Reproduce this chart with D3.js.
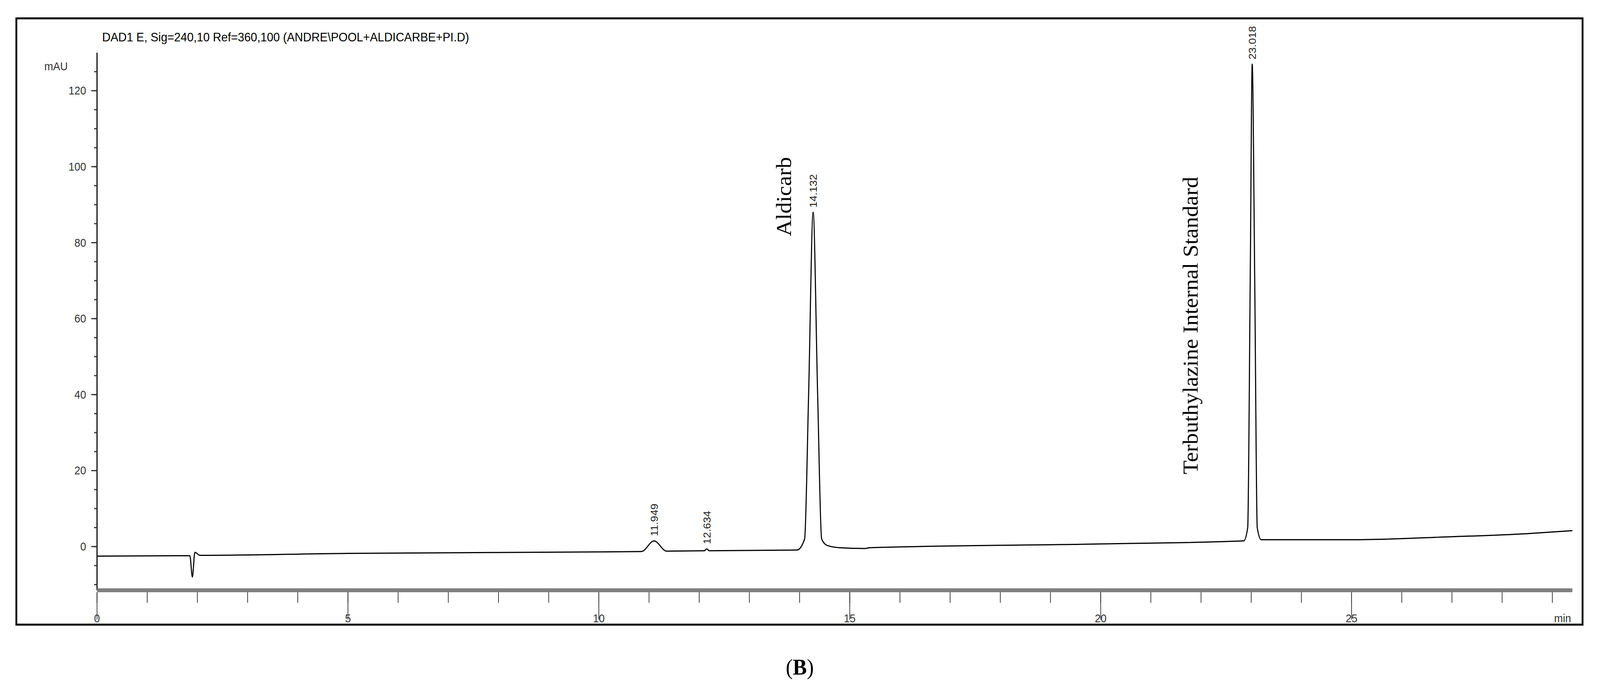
<!DOCTYPE html>
<html>
<head>
<meta charset="utf-8">
<script src="https://cdn.jsdelivr.net/npm/d3@7"></script>
<style>
  html, body { margin: 0; padding: 0; background: #fff; overflow: hidden; }
  svg { display: block; }
  text { font-family: "Liberation Sans", Arial, sans-serif; }
</style>
</head>
<body>
<svg id="chart" viewBox="0 0 4403 1770" preserveAspectRatio="none" style="width:100vw;height:100vh"></svg>
<script>
// chromatogram trace (min, mAU)
var times  = [0, 1.85, 1.9, 1.95, 2.05, 5, 10, 10.85, 11.1, 11.35, 12.1, 12.15, 12.2, 13.95, 14.1, 14.18, 14.27, 14.36, 14.44, 14.55, 14.8, 15.3, 15.4, 20, 22.85, 22.93, 22.98, 23.02, 23.07, 23.12, 23.2, 25, 27, 28.5, 29.4];
var signal = [-2.5, -2.4, -8, -1.5, -2.3, -1.8, -1.4, -1.3, 1.5, -1.2, -1.1, -0.6, -1.1, -0.9, 2, 40, 88, 40, 2, 0.3, -0.3, -0.5, -0.3, 0.7, 1.5, 5, 70, 127, 70, 5, 1.8, 1.8, 2.6, 3.4, 4.2];

// peak retention time labels
var peakTimes  = [11.1, 12.15, 14.27, 23.02];
var peakHeight = [1.5, -0.6, 88, 127];
var peakLabels = ["11.949", "12.634", "14.132", "23.018"];

// compound names
var compounds  = ["Aldicarb", "Terbuthylazine Internal Standard"];
var compoundAt = [13.7, 21.8];

var xTicks = [0, 5, 10, 15, 20, 25];
var yTicks = [0, 20, 40, 60, 80, 100, 120];

var svg = d3.select("#chart");

// outer frame
svg.append("rect").attr("x", 45).attr("y", 47).attr("width", 4310).attr("height", 1553)
    .attr("fill", "none").attr("stroke", "#000").attr("stroke-width", 5);

svg.append("text").attr("x", 281).attr("y", 106).attr("font-size", 32)
    .text("DAD1 E, Sig=240,10 Ref=360,100 (ANDRE\\POOL+ALDICARBE+PI.D)");

var x = d3.scaleLinear().domain([0, 29.4]).range([267, 4327]);
var y = d3.scaleLinear().domain([-11.5, 130]).range([1512, 135]);

// y axis
var yAxis = svg.append("g").attr("transform", "translate(267,0)");
yAxis.append("line").attr("y1", y(130)).attr("y2", y(-11.5)).attr("stroke", "#000").attr("stroke-width", 3);
yAxis.selectAll(".minor").data(d3.range(-10, 130, 5)).enter().append("line")
    .attr("x1", -8).attr("x2", 0).attr("y1", d => y(d)).attr("y2", d => y(d)).attr("stroke", "#333").attr("stroke-width", 3);
yAxis.selectAll(".major").data(yTicks).enter().append("line")
    .attr("x1", -16).attr("x2", 0).attr("y1", d => y(d)).attr("y2", d => y(d)).attr("stroke", "#333").attr("stroke-width", 3);
yAxis.selectAll(".lbl").data(yTicks).enter().append("text")
    .attr("x", -30).attr("y", d => y(d) + 10).attr("text-anchor", "end").attr("font-size", 29).attr("fill", "#333")
    .text(d => d);
svg.append("text").attr("x", 122).attr("y", 180).attr("font-size", 29).attr("fill", "#333").text("mAU");

// x axis
var xAxis = svg.append("g").attr("transform", "translate(0,1512)");
xAxis.append("line").attr("x1", 267).attr("x2", 4327).attr("stroke", "#808080").attr("stroke-width", 10);
xAxis.selectAll(".minor").data(d3.range(0, 30, 1)).enter().append("line")
    .attr("x1", d => x(d)).attr("x2", d => x(d)).attr("y1", 5).attr("y2", 32).attr("stroke", "#333").attr("stroke-width", 2);
xAxis.selectAll(".major").data(xTicks).enter().append("line")
    .attr("x1", d => x(d)).attr("x2", d => x(d)).attr("y1", 5).attr("y2", 75).attr("stroke", "#333").attr("stroke-width", 2);
xAxis.selectAll(".lbl").data(xTicks).enter().append("text")
    .attr("x", d => x(d)).attr("y", 82).attr("text-anchor", "middle").attr("font-size", 29).attr("fill", "#333")
    .text(d => d);
xAxis.append("text").attr("x", 4300).attr("y", 82).attr("text-anchor", "middle").attr("font-size", 29).attr("fill", "#333").text("min");

// trace
var line = d3.line().x((d, i) => x(times[i])).y(d => y(d)).curve(d3.curveMonotoneX);
svg.append("path").datum(signal).attr("d", line)
    .attr("fill", "none").attr("stroke", "#000").attr("stroke-width", 3).attr("stroke-linejoin", "round");

// retention time labels
svg.selectAll(".rt").data(peakLabels).enter().append("text")
    .attr("transform", (d, i) => "translate(" + (x(peakTimes[i]) + 10) + "," + (y(peakHeight[i]) - 12) + ") rotate(-90)")
    .attr("font-size", 28).attr("fill", "#222")
    .text(d => d);

// compound names
svg.selectAll(".cmp").data(compounds).enter().append("text")
    .attr("transform", (d, i) => "translate(" + (x(compoundAt[i]) + 18) + "," + (i === 0 ? 605 : 1215) + ") rotate(-90)")
    .attr("font-size", 58)
    .style("font-family", "'Liberation Serif', serif")
    .text(d => d);

// panel tag
svg.append("text").attr("x", 2201).attr("y", 1728).attr("text-anchor", "middle")
    .style("font-family", "'Liberation Serif', serif").attr("font-size", 58)
    .html('(<tspan font-weight="bold">B</tspan>)');
</script>
</body>
</html>
